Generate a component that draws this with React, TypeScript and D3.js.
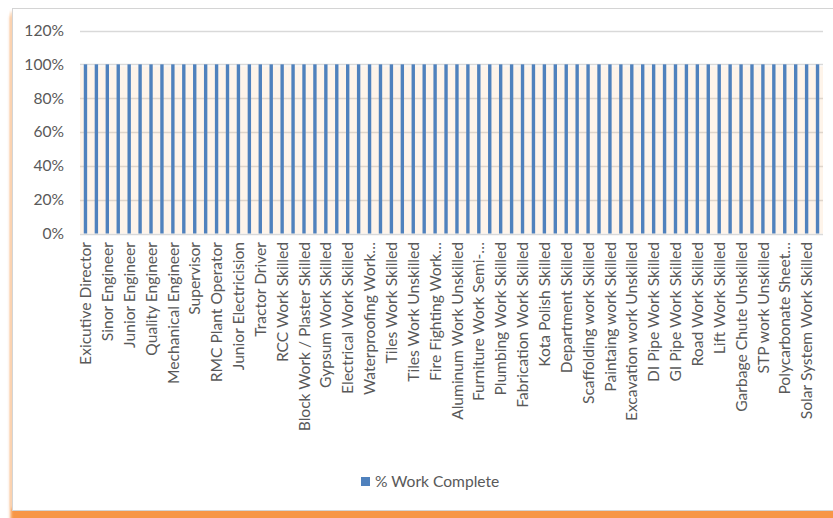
import React from "react";
import * as d3 from "d3";

// Trade / role categories (drawn labels use Excel-style truncation where the name is long)
const categories: string[] = [
  "Exicutive Director", "General Manager",
  "Sinor Engineer", "Site Engineer",
  "Junior Engineer", "Planning Engineer",
  "Quality Engineer", "Safety Engineer",
  "Mechanical Engineer", "Electrical Engineer",
  "Supervisor", "Store Keeper",
  "RMC Plant Operator", "Batching Plant Operator",
  "Junior Electricision", "Crane Operator",
  "Tractor Driver", "JCB Operator",
  "RCC Work Skilled", "RCC Work Unskilled",
  "Block Work / Plaster Skilled", "Block Work / Plaster Unskilled",
  "Gypsum Work Skilled", "Gypsum Work Unskilled",
  "Electrical Work Skilled", "Electrical Work Unskilled",
  "Waterproofing Work…", "Waterproofing Work Unskilled",
  "Tiles Work Skilled", "Tiles Work Semi-skilled",
  "Tiles Work Unskilled", "Fire Fighting Work Skilled",
  "Fire Fighting Work…", "Aluminum Work Skilled",
  "Aluminum Work Unskilled", "Furniture Work Skilled",
  "Furniture Work Semi-…", "Furniture Work Unskilled",
  "Plumbing Work Skilled", "Plumbing Work Unskilled",
  "Fabrication Work Skilled", "Fabrication Work Unskilled",
  "Kota Polish Skilled", "Kota Polish Unskilled",
  "Department Skilled", "Department Unskilled",
  "Scaffolding work Skilled", "Scaffolding work Unskilled",
  "Paintaing work Skilled", "Paintaing work Unskilled",
  "Excavation work Unskilled", "Excavation work Skilled",
  "DI Pipe Work Skilled", "DI Pipe Work Unskilled",
  "GI Pipe Work Skilled", "GI Pipe Work Unskilled",
  "Road Work Skilled", "Road Work Unskilled",
  "Lift Work Skilled", "Lift Work Unskilled",
  "Garbage Chute Unskilled", "Garbage Chute Skilled",
  "STP work Unskilled", "STP work Skilled",
  "Polycarbonate Sheet…", "Polycarbonate Sheet Unskilled",
  "Solar System Work Skilled", "Solar System Work Unskilled",
];

// Share of work complete per category
const workComplete: number[] = [
  1, 1, 1, 1, 1, 1, 1, 1, 1, 1,
  1, 1, 1, 1, 1, 1, 1, 1, 1, 1,
  1, 1, 1, 1, 1, 1, 1, 1, 1, 1,
  1, 1, 1, 1, 1, 1, 1, 1, 1, 1,
  1, 1, 1, 1, 1, 1, 1, 1, 1, 1,
  1, 1, 1, 1, 1, 1, 1, 1, 1, 1,
  1, 1, 1, 1, 1, 1, 1, 1,
];

const yTicks: number[] = [0, 0.2, 0.4, 0.6, 0.8, 1.0, 1.2];
const seriesName = "% Work Complete";

const W = 833;
const H = 518;
const FONT = "Lato, 'Open Sans', sans-serif";
const TEXT = "#595959";
const BAR = "#4f81bd";
const FS = 15.6;

export default function App() {
  const x = d3
    .scaleBand<string>()
    .domain(categories)
    .range([80, 823])
    .paddingInner(0.69)
    .paddingOuter(0.345);
  const y = d3.scaleLinear().domain([0, 1.2]).range([233.5, 30.5]);
  const fmt = d3.format(".0%");
  const step = x.step();

  return (
    <svg
      width={W}
      height={H}
      style={{ position: "absolute", left: 0, top: 0, fontFamily: FONT }}
    >
      <defs>
        <filter id="shadowBlur" x="-5%" y="-5%" width="110%" height="110%">
          <feGaussianBlur stdDeviation="1.6" />
        </filter>
      </defs>
      <rect x={0} y={0} width={W} height={H} fill="#ffffff" />

      {/* chart frame with orange drop shadow */}
      <rect x={10.5} y={16} width={840} height={520} fill="#f79646" filter="url(#shadowBlur)" />
      <rect x={10} y={12} width={4} height={496} fill="#fbd9bb" filter="url(#shadowBlur)" />
      <rect x={12.5} y={8.5} width={840} height={502} fill="#ffffff" stroke="#d4d4d4" />

      {/* horizontal gridlines */}
      {yTicks.map((t) => (
        <line
          key={"g" + t}
          x1={80}
          x2={823}
          y1={Math.round(y(t)) + 0.5}
          y2={Math.round(y(t)) + 0.5}
          stroke="#d9d9d9"
          strokeWidth={1.5}
        />
      ))}

      {/* soft glow behind each bar */}
      {categories.map((c, i) => (
        <rect
          key={"glow" + c}
          x={(x(c) as number) - (step - x.bandwidth()) / 2}
          y={y(workComplete[i]) + 2}
          width={step}
          height={y(0) - y(workComplete[i]) - 2}
          fill="#f8c898"
          opacity={0.2}
        />
      ))}

      {/* bars */}
      {categories.map((c, i) => (
        <rect
          key={"bar" + c}
          x={x(c) as number}
          y={y(workComplete[i])}
          width={x.bandwidth()}
          height={y(0) - y(workComplete[i])}
          fill={BAR}
        />
      ))}

      {/* y tick labels */}
      {yTicks.map((t) => (
        <text
          key={"yt" + t}
          x={64}
          y={y(t)}
          dy="0.35em"
          textAnchor="end"
          fontSize={FS}
          fill={TEXT}
        >
          {fmt(t)}
        </text>
      ))}

      {/* category labels, every other category */}
      {categories.map((c, i) =>
        i % 2 === 0 ? (
          <text
            key={"xl" + c}
            transform={`translate(${(x(c) as number) + x.bandwidth() / 2},242) rotate(-90)`}
            dy="0.36em"
            textAnchor="end"
            fontSize={FS}
            fill={TEXT}
          >
            {c}
          </text>
        ) : null
      )}

      {/* legend */}
      <rect x={361} y={477} width={9} height={9} fill={BAR} />
      <text x={375} y={481.5} dy="0.35em" fontSize={FS} fill={TEXT}>
        {seriesName}
      </text>
    </svg>
  );
}
